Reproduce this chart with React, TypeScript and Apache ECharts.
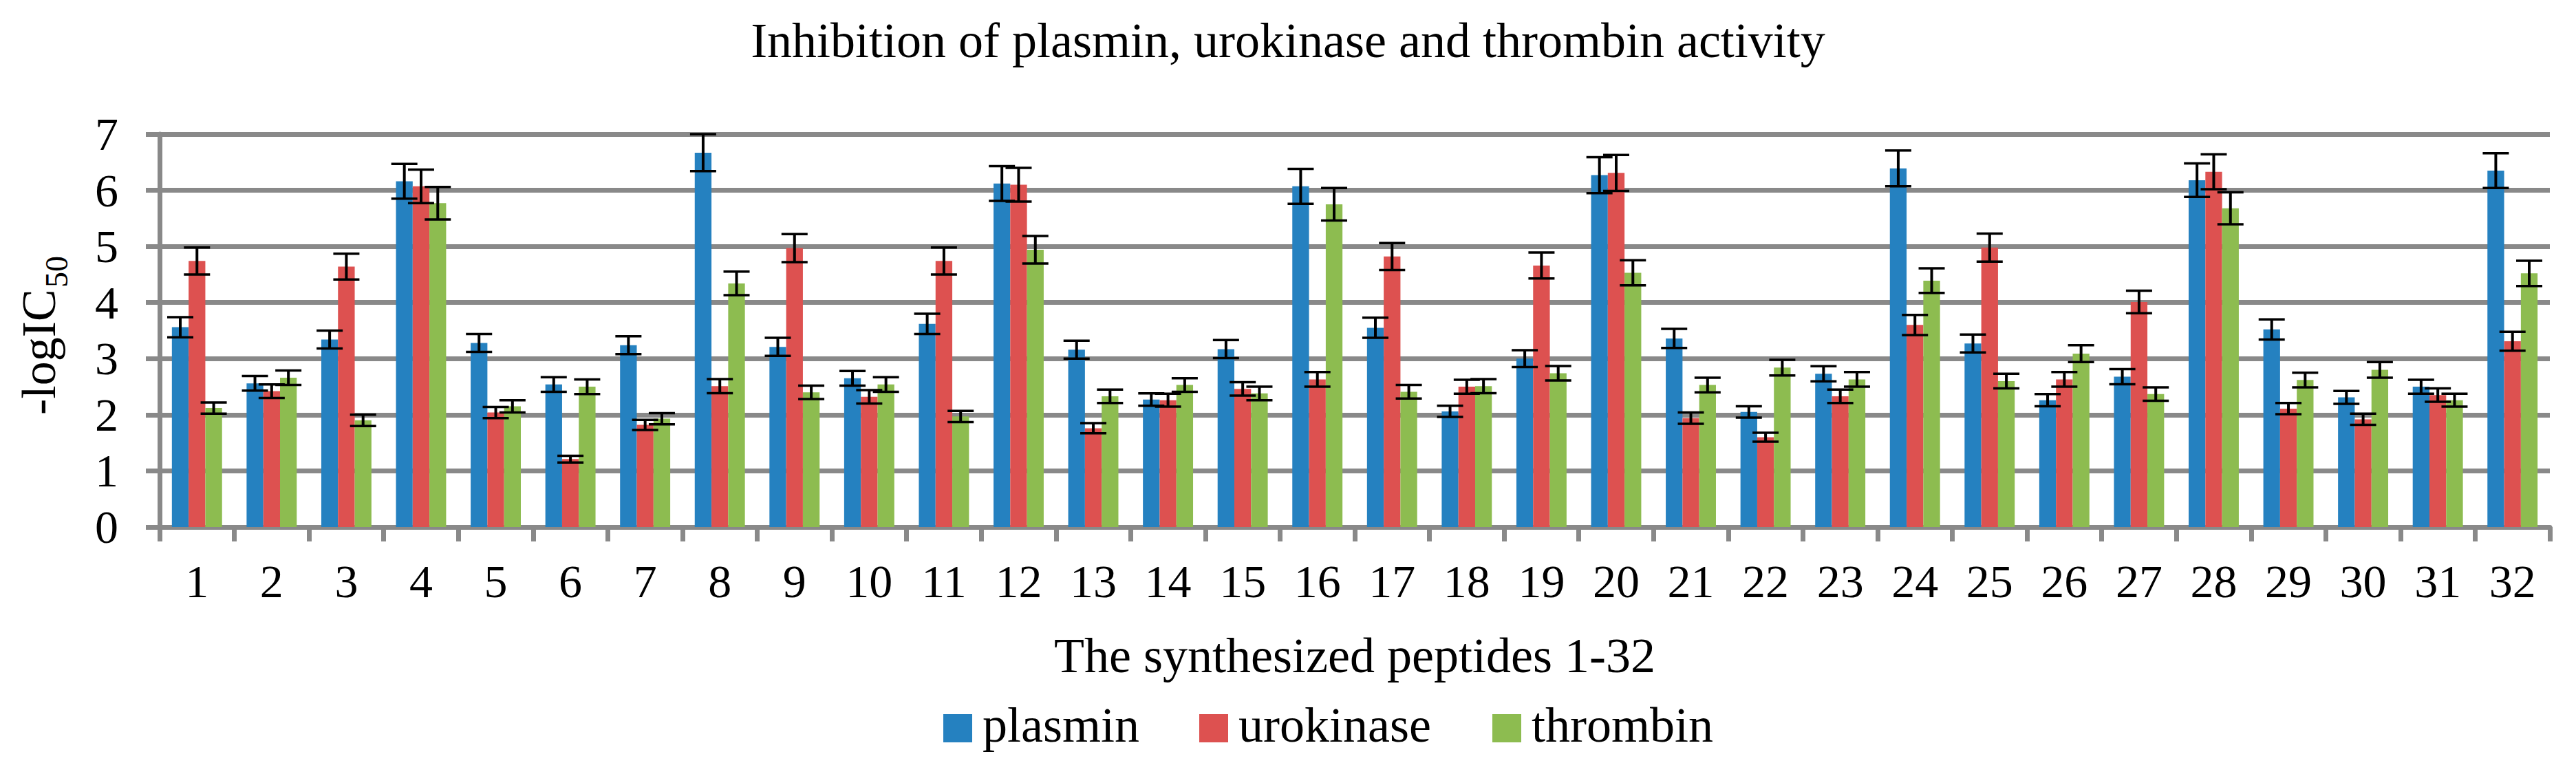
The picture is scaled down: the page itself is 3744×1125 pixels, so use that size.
import React, { useEffect, useRef } from "react";
import * as echarts from "echarts";

// Peptide numbers on the category axis
const peptides = [
  "1", "2", "3", "4", "5", "6", "7", "8", "9", "10", "11", "12", "13", "14", "15", "16",
  "17", "18", "19", "20", "21", "22", "23", "24", "25", "26", "27", "28", "29", "30", "31", "32",
];

// Enzyme names (series / legend entries)
const enzymes = ["plasmin", "urokinase", "thrombin"];

// -logIC50 values per enzyme
const plasmin = [
  3.56, 2.56, 3.34, 6.16, 3.28, 2.54, 3.24, 6.67, 3.21, 2.65, 3.62, 6.12, 3.16, 2.27, 3.17, 6.07,
  3.55, 2.06, 3.0, 6.27, 3.36, 2.05, 2.73, 6.39, 3.27, 2.26, 2.68, 6.18, 3.52, 2.31, 2.5, 6.35,
];
const urokinase = [
  4.74, 2.42, 4.64, 6.07, 2.04, 1.21, 1.82, 2.51, 4.97, 2.32, 4.74, 6.1, 1.76, 2.26, 2.46, 2.63,
  4.82, 2.5, 4.66, 6.31, 1.94, 1.6, 2.33, 3.6, 4.98, 2.63, 4.01, 6.33, 2.11, 1.92, 2.35, 3.31,
];
const thrombin = [
  2.12, 2.66, 1.9, 5.77, 2.15, 2.5, 1.93, 4.34, 2.4, 2.54, 1.97, 4.94, 2.33, 2.53, 2.38, 5.75,
  2.41, 2.51, 2.74, 4.53, 2.53, 2.84, 2.63, 4.39, 2.6, 3.09, 2.37, 5.68, 2.62, 2.8, 2.26, 4.52,
];

// Error bar half-widths (±)
const plasminErr = [
  0.18, 0.13, 0.16, 0.31, 0.16, 0.13, 0.16, 0.33, 0.16, 0.13, 0.18, 0.31, 0.16, 0.11, 0.16, 0.31,
  0.18, 0.1, 0.15, 0.32, 0.17, 0.1, 0.135, 0.32, 0.16, 0.11, 0.135, 0.3, 0.18, 0.115, 0.125, 0.31,
];
const urokinaseErr = [
  0.24, 0.12, 0.23, 0.3, 0.1, 0.06, 0.09, 0.125, 0.25, 0.12, 0.24, 0.3, 0.09, 0.115, 0.12, 0.13,
  0.24, 0.125, 0.23, 0.32, 0.1, 0.08, 0.12, 0.18, 0.25, 0.13, 0.2, 0.31, 0.1, 0.1, 0.12, 0.17,
];
const thrombinErr = [
  0.1, 0.13, 0.1, 0.29, 0.11, 0.13, 0.1, 0.21, 0.12, 0.13, 0.1, 0.245, 0.12, 0.12, 0.12, 0.29,
  0.12, 0.125, 0.13, 0.225, 0.13, 0.14, 0.13, 0.22, 0.13, 0.15, 0.12, 0.285, 0.13, 0.14, 0.115, 0.225,
];

const yTicks = [0, 1, 2, 3, 4, 5, 6, 7];

const FONT = '"Liberation Serif", "Times New Roman", serif';
const GRID_GRAY = "#898989";
const COLORS = ["#2581C0", "#DD5150", "#8DBC50"];
const BAR_W = 24.3;
const CAP_W = 38;
// left edge of each legend swatch
const LEGEND_X = [1371, 1743, 2169];

function errorSeries(name: string, values: number[], errs: number[], slot: number) {
  return {
    type: "custom",
    name,
    silent: true,
    z: 6,
    data: values.map((v, i) => [i, v, errs[i]]),
    encode: { x: 0, y: 1 },
    renderItem: (_params: any, api: any) => {
      const i = api.value(0);
      const v = api.value(1);
      const e = api.value(2);
      const hi = api.coord([i, v + e]);
      const lo = api.coord([i, v - e]);
      const x = hi[0] + (slot - 1) * BAR_W;
      const h = CAP_W / 2;
      const st = { stroke: "#000", lineWidth: 3.5 };
      return {
        type: "group",
        children: [
          { type: "line", shape: { x1: x, y1: hi[1], x2: x, y2: lo[1] }, style: { stroke: "#000", lineWidth: 4 } },
          { type: "line", shape: { x1: x - h, y1: hi[1], x2: x + h, y2: hi[1] }, style: st },
          { type: "line", shape: { x1: x - h, y1: lo[1], x2: x + h, y2: lo[1] }, style: st },
        ],
      };
    },
  };
}

// Legend drawn as swatch + label pairs
function legendGraphics() {
  const out: any[] = [];
  enzymes.forEach((name, k) => {
    out.push({
      type: "rect",
      shape: { x: LEGEND_X[k], y: 1038, width: 42, height: 41 },
      style: { fill: COLORS[k] },
    });
    out.push({
      type: "text",
      x: LEGEND_X[k] + 57,
      y: 1054,
      style: {
        text: name,
        font: 'normal 72px "Liberation Serif"',
        fontFamily: "Liberation Serif",
        fontSize: 72,
        fill: "#000",
        align: "left",
        verticalAlign: "middle",
      },
    });
  });
  return out;
}

export default function App() {
  const ref = useRef<HTMLDivElement>(null);

  useEffect(() => {
    if (!ref.current) return;
    const chart = echarts.init(ref.current, null, { renderer: "svg" });
    const option: any = {
      animation: false,
      backgroundColor: "#fff",
      textStyle: { fontFamily: FONT, color: "#000" },
      title: {
        text: "Inhibition of plasmin, urokinase and thrombin activity",
        left: "center",
        top: 23,
        padding: 0,
        textStyle: { fontSize: 72, lineHeight: 72, fontWeight: "normal", fontFamily: FONT, color: "#000" },
      },
      grid: { left: 232, right: 38, top: 195, bottom: 359, containLabel: false },
      xAxis: {
        type: "category",
        data: peptides,
        boundaryGap: true,
        axisLine: { lineStyle: { color: GRID_GRAY, width: 7 } },
        axisTick: { show: true, interval: 0, length: 21, lineStyle: { color: GRID_GRAY, width: 7 } },
        axisLabel: { interval: 0, fontSize: 68, lineHeight: 68, margin: 45, color: "#000", fontFamily: FONT },
        name: "The synthesized peptides 1-32",
        nameLocation: "middle",
        nameGap: 151,
        nameTextStyle: { fontSize: 72, lineHeight: 72, color: "#000", fontFamily: FONT },
      },
      yAxis: {
        type: "value",
        min: yTicks[0],
        max: yTicks[yTicks.length - 1],
        interval: 1,
        axisLine: { show: true, lineStyle: { color: GRID_GRAY, width: 7 } },
        axisTick: { show: true, length: 20, lineStyle: { color: GRID_GRAY, width: 7 } },
        splitLine: { show: true, lineStyle: { color: GRID_GRAY, width: 7 } },
        axisLabel: { fontSize: 68, margin: 60, color: "#000", fontFamily: FONT },
      },
      graphic: [
        {
          type: "group",
          x: 80,
          y: 603,
          rotation: Math.PI / 2,
          children: [
            {
              type: "text",
              x: 0,
              y: -24,
              style: { text: "-logIC", fontSize: 70, fontFamily: FONT, fill: "#000", align: "left", verticalAlign: "middle" },
            },
            {
              type: "text",
              x: 185,
              y: 2,
              style: { text: "50", fontSize: 46, fontFamily: FONT, fill: "#000", align: "left", verticalAlign: "middle" },
            },
          ],
        },
        ...legendGraphics(),
      ],
      series: [
        { type: "bar", name: enzymes[0], data: plasmin, barWidth: BAR_W, barGap: "0%", itemStyle: { color: COLORS[0] }, z: 3 },
        { type: "bar", name: enzymes[1], data: urokinase, barWidth: BAR_W, barGap: "0%", itemStyle: { color: COLORS[1] }, z: 3 },
        { type: "bar", name: enzymes[2], data: thrombin, barWidth: BAR_W, barGap: "0%", itemStyle: { color: COLORS[2] }, z: 3 },
        errorSeries("plasmin ±", plasmin, plasminErr, 0),
        errorSeries("urokinase ±", urokinase, urokinaseErr, 1),
        errorSeries("thrombin ±", thrombin, thrombinErr, 2),
      ],
    };
    chart.setOption(option);
    return () => chart.dispose();
  }, []);

  return <div ref={ref} style={{ position: "fixed", left: 0, top: 0, width: 3744, height: 1125 }} />;
}
